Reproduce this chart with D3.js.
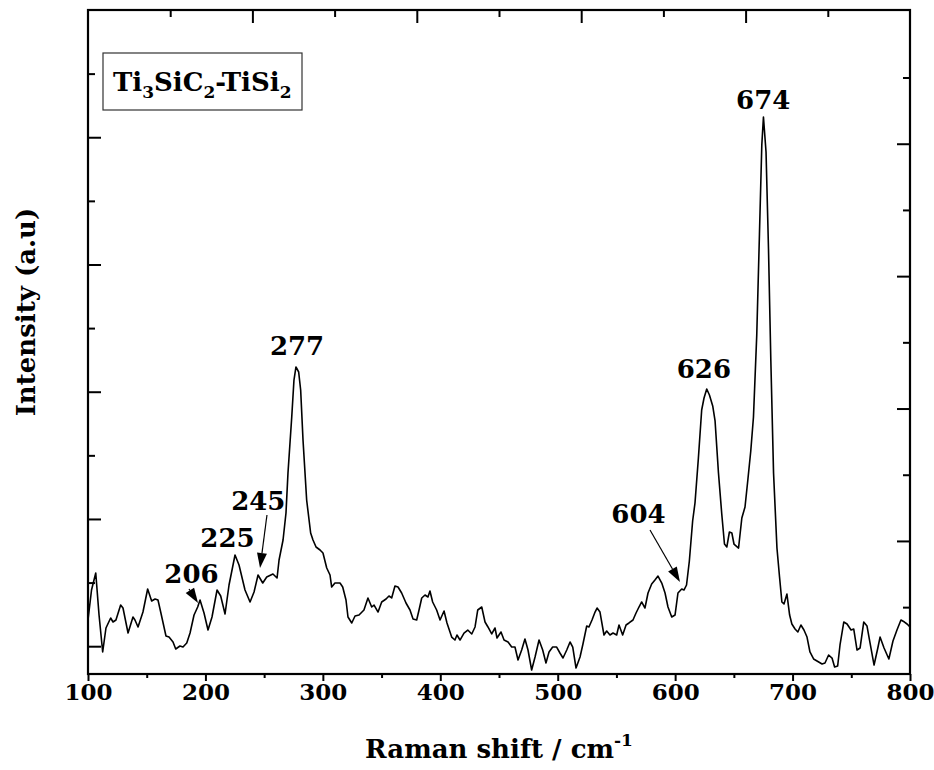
<!DOCTYPE html>
<html>
<head>
<meta charset="utf-8">
<script src="https://cdn.jsdelivr.net/npm/d3@7"></script>
<style>
  html, body { margin: 0; padding: 0; background: #fff; }
  svg { display: block; font-family: "DejaVu Serif", serif; font-weight: bold; }
</style>
</head>
<body>
<svg id="chart" width="934" height="770"></svg>
<script>
// ---- data ----
const wavenumber = [100,103,106.6,109.4,112.5,115.3,119.3,121.3,123.8,127.8,129.8,134.1,138.3,140,142.6,146.8,150.8,154.2,157.1,159.6,161.9,166.4,169,172.4,174.7,178.3,180.9,184.1,186.9,190.3,193.4,195.4,198.8,202.2,205.6,209.9,213,216.7,220.1,225.2,228.6,233.7,238,241.4,244.8,248.8,252.2,257.5,261,262.7,266.1,268.6,270.3,273.5,275.4,277.1,279.4,281.1,283.1,286.2,289.6,291.6,294.2,297.6,300.1,303.3,306.1,307.5,310.3,314.6,316.9,319.7,321.4,324.6,327.4,330.8,335,338.4,341.6,343.6,347,350.1,353.8,356.3,358.6,361.4,364,367.1,370.8,374.2,376.8,379.9,381.9,384.2,387,389.5,391.2,393.5,396.9,399.8,403.2,405.7,409.7,412.5,414.2,416.8,420.2,423.4,426.8,429.6,431.9,435.3,438.1,440.6,443.8,446.6,448.3,451.7,454.3,457.7,460.8,463.6,466.2,469.3,472.1,474.7,477.8,480.7,484.1,487.2,490,492.6,495.7,499.1,501.9,504.5,507.7,510.5,512.8,515.6,519,521.5,524.7,526.6,529.2,531.8,533.5,536,539.4,541.7,544.5,547.1,550.2,552.2,555.3,558.2,560.7,564.1,566.7,569.2,571.5,574.3,576.9,580,582.8,585.4,588.6,591.4,593.9,597.1,599.9,602.4,605.6,607.5,609.7,612.1,614.9,616.9,619.8,622.6,624.6,626.9,629.2,632,634,636.9,639.7,642,644,646.2,648.3,650.1,654,656.8,659.5,661.9,664.4,666.7,669.5,671.8,673.8,675.2,677.4,679.5,681.5,683.8,686.7,688.9,690.9,692.7,695.2,697.5,699.4,702.1,704.5,707.1,709.7,712.3,714.8,717.9,720.8,725.1,727.6,730.7,733.6,735.8,738.4,740.4,743.6,746.4,749.8,752.1,754.9,757.5,760.6,763.4,766,769.4,772.6,774.5,777.9,782,785.5,788.9,792.3,795.3,797.5,800];
const intensity = [412,883,1150,490,-91,286,443,380,412,647,600,207,459,412,302,537,899,710,742,726,537,160,144,66,-44,3,-13,50,207,490,616,726,522,254,459,883,789,506,962,1433,1276,883,695,852,1119,993,1088,1135,1072,1355,1669,2094,2722,3603,4184,4389,4310,4027,3241,2298,1779,1669,1559,1512,1465,1229,1119,930,993,993,930,726,459,365,475,490,569,758,616,647,537,695,742,789,758,946,930,836,679,569,427,412,569,758,805,773,868,695,569,412,553,365,144,97,176,97,207,254,192,302,569,616,380,302,192,286,129,223,97,66,-13,-13,-217,-60,113,-60,-374,-170,97,-60,-264,-91,-13,-13,-107,-186,-60,66,-13,-343,-170,34,317,302,412,537,600,537,176,239,176,207,176,333,176,333,365,412,522,616,695,600,836,978,1040,1103,993,836,616,459,490,836,899,883,962,1339,1968,2251,2958,3713,3901,4043,3948,3776,3540,2722,2078,1606,1559,1795,1779,1606,1543,2015,2188,2612,3068,3603,4892,6479,7878,8318,7768,6243,4483,2722,1543,1088,695,663,820,490,349,270,223,333,254,144,-91,-201,-233,-280,-264,-138,-186,-327,-311,19,380,349,254,270,-60,-28,380,317,50,-296,-28,144,-28,-201,82,254,412,380,349,302];

const xTickValues = [100,200,300,400,500,600,700,800];
const xMinorTicks = [150,250,350,450,550,650,750];
const yTickValues = [0,1000,2000,3000,4000,5000,6000,7000,8000,9000];
const rightTicks = [0,1,2,3,4,5,6,7,8];
const topTicks = [1,2,3,4,5,6,7,8,9];

const peakLabels = ["277","626","674","604","245","225","206"];
const peakLabelX = [278,624.5,675,568.8,245,218.8,188.1];
const peakLabelY = [4580,4216,8440,1936,2141,1559,993];

const arrowLabel = ["604","245","206"];
const arrowFromX = [578.6,252.4,186.0];
const arrowFromY = [1826,2062,899];
const arrowToX = [604.1,246.5,193.7];
const arrowToY = [1009,1229,679];

// ---- layout ----
const L = 88, R = 910, T = 10, B = 674;
const svg = d3.select("#chart");

const x = d3.scaleLinear().domain([100, 800]).range([L, R]);
const y = d3.scaleLinear().domain([-437, 10000]).range([B, T]);
const yR = d3.scaleLinear().domain([-1.01, 9.02]).range([B, T]);
const xT = d3.scaleLinear().domain([0, 10]).range([L, R]);

const clipId = "plotclip";
svg.append("defs").append("clipPath").attr("id", clipId)
  .append("rect").attr("x", L).attr("y", T).attr("width", R - L).attr("height", B - T);

// line
const line = d3.line().x(d => x(d[0])).y(d => y(d[1]));
const pts = wavenumber.map((w, i) => [w, intensity[i]]);
svg.append("path")
  .datum(pts)
  .attr("clip-path", `url(#${clipId})`)
  .attr("fill", "none")
  .attr("stroke", "#000")
  .attr("stroke-width", 1.6)
  .attr("stroke-linejoin", "round")
  .attr("d", line);

// axes
function styleAxis(g) {
  g.select(".domain").remove();
  g.selectAll(".tick line").attr("stroke", "#000").attr("stroke-width", 2);
}
// bottom (outward)
svg.append("g").attr("transform", `translate(0,${B})`)
  .call(d3.axisBottom(x).tickValues(xTickValues).tickSize(7).tickPadding(3).tickFormat(d3.format("d")))
  .call(styleAxis)
  .call(g => g.selectAll("text").attr("font-size", 23).attr("font-family", "DejaVu Serif").attr("font-weight", "bold").attr("fill", "#000"));
svg.append("g").attr("transform", `translate(0,${B})`)
  .call(d3.axisBottom(x).tickValues(xMinorTicks).tickSize(4).tickFormat(""))
  .call(styleAxis);
// left (inward)
svg.append("g").attr("transform", `translate(${L},0)`)
  .call(d3.axisRight(y).tickValues(yTickValues.filter((d,i)=>i%2===0)).tickSize(13).tickFormat(""))
  .call(styleAxis);
svg.append("g").attr("transform", `translate(${L},0)`)
  .call(d3.axisRight(y).tickValues(yTickValues.filter((d,i)=>i%2===1)).tickSize(7).tickFormat(""))
  .call(styleAxis);
// right (inward)
svg.append("g").attr("transform", `translate(${R},0)`)
  .call(d3.axisLeft(yR).tickValues(rightTicks.filter(d=>d%2===1)).tickSize(13).tickFormat(""))
  .call(styleAxis);
svg.append("g").attr("transform", `translate(${R},0)`)
  .call(d3.axisLeft(yR).tickValues(rightTicks.filter(d=>d%2===0)).tickSize(7).tickFormat(""))
  .call(styleAxis);
// top (inward)
svg.append("g").attr("transform", `translate(0,${T})`)
  .call(d3.axisBottom(xT).tickValues(topTicks.filter(d=>d%2===0)).tickSize(13).tickFormat(""))
  .call(styleAxis);
svg.append("g").attr("transform", `translate(0,${T})`)
  .call(d3.axisBottom(xT).tickValues(topTicks.filter(d=>d%2===1)).tickSize(7).tickFormat(""))
  .call(styleAxis);

// frame
svg.append("rect").attr("x", L).attr("y", T).attr("width", R - L).attr("height", B - T)
  .attr("fill", "none").attr("stroke", "#000").attr("stroke-width", 2.2);

// axis titles
const xt = svg.append("text").attr("x", (L + R) / 2).attr("y", 758)
  .attr("text-anchor", "middle").attr("font-size", 26).attr("fill", "#000");
xt.append("tspan").text("Raman shift / cm");
xt.append("tspan").attr("font-size", 17).attr("dy", -12).text("-1");

svg.append("text")
  .attr("transform", `translate(35,312) rotate(-90)`)
  .attr("text-anchor", "middle").attr("font-size", 26).attr("fill", "#000")
  .text("Intensity (a.u)");

// legend box
svg.append("rect").attr("x", 103).attr("y", 53).attr("width", 199).attr("height", 57)
  .attr("fill", "#fff").attr("stroke", "#333").attr("stroke-width", 1.2);
const lt = svg.append("text").attr("x", 113).attr("y", 91).attr("font-size", 26).attr("fill", "#000");
lt.append("tspan").text("Ti");
lt.append("tspan").attr("font-size", 17).attr("dy", 7).text("3");
lt.append("tspan").attr("dy", -7).text("SiC");
lt.append("tspan").attr("font-size", 17).attr("dy", 7).text("2");
lt.append("tspan").attr("dy", -7).text("-TiSi");
lt.append("tspan").attr("font-size", 17).attr("dy", 7).text("2");

// peak labels
svg.append("g").selectAll("text").data(peakLabels).join("text")
  .attr("x", (d, i) => x(peakLabelX[i]))
  .attr("y", (d, i) => y(peakLabelY[i]))
  .attr("text-anchor", "middle").attr("font-size", 26).attr("fill", "#000")
  .text(d => d);

// arrows
const ag = svg.append("g");
arrowLabel.forEach((lab, i) => {
  const x1 = x(arrowFromX[i]), y1 = y(arrowFromY[i]);
  const x2 = x(arrowToX[i]), y2 = y(arrowToY[i]);
  const ang = Math.atan2(y2 - y1, x2 - x1);
  const hl = 15, hw = 5;
  const bx = x2 - hl * Math.cos(ang), by = y2 - hl * Math.sin(ang);
  ag.append("line").attr("x1", x1).attr("y1", y1).attr("x2", bx).attr("y2", by)
    .attr("stroke", "#000").attr("stroke-width", 1.2);
  const p1 = [bx + hw * Math.sin(ang), by - hw * Math.cos(ang)];
  const p2 = [bx - hw * Math.sin(ang), by + hw * Math.cos(ang)];
  ag.append("path").attr("d", `M${x2},${y2}L${p1[0]},${p1[1]}L${p2[0]},${p2[1]}Z`).attr("fill", "#000");
});
</script>
</body>
</html>
